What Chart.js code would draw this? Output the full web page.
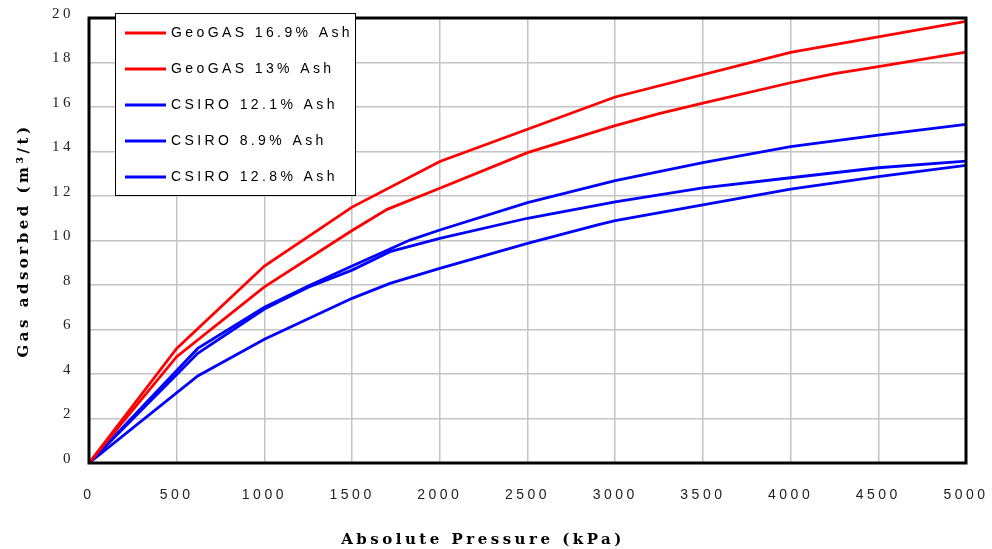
<!DOCTYPE html>
<html><head><meta charset="utf-8">
<script src="https://cdn.jsdelivr.net/npm/chart.js@4.4.1/dist/chart.umd.min.js"></script>
<style>html,body{margin:0;padding:0;background:#fff}canvas{display:block}</style>
</head><body>
<canvas id="c" width="992" height="549"></canvas>
<script>
// ---- data ----
const seriesLabels = ['GeoGAS 16.9% Ash', 'GeoGAS 13% Ash', 'CSIRO 12.1% Ash', 'CSIRO 8.9% Ash', 'CSIRO 12.8% Ash'];
const seriesColors = ['#ff0000', '#ff0000', '#0000ff', '#0000ff', '#0000ff'];

const geo169Pressure = [0, 500, 1000, 1500, 2000, 3000, 4000, 5000];
const geo169Gas      = [0, 5.15, 8.85, 11.5, 13.55, 16.45, 18.45, 19.85];

const geo13Pressure = [0, 500, 1000, 1500, 1700, 2000, 2500, 3000, 3250, 3500, 4000, 4250, 4500, 5000];
const geo13Gas      = [0, 4.78, 7.92, 10.45, 11.4, 12.35, 13.95, 15.16, 15.7, 16.17, 17.09, 17.5, 17.81, 18.47];

const csiro121Pressure = [0, 620, 1000, 1250, 1500, 1830, 2000, 2500, 3000, 3500, 4000, 4500, 5000];
const csiro121Gas      = [0, 5.15, 7.0, 7.95, 8.85, 10.02, 10.47, 11.7, 12.69, 13.5, 14.22, 14.74, 15.22];

const csiro89Pressure = [0, 620, 1000, 1250, 1500, 1716, 2000, 2500, 3000, 3500, 4000, 4500, 5000];
const csiro89Gas      = [0, 4.93, 6.92, 7.9, 8.67, 9.5, 10.1, 11.0, 11.74, 12.37, 12.82, 13.27, 13.57];

const csiro128Pressure = [0, 620, 1000, 1500, 1716, 2000, 2500, 2900, 3000, 3500, 4000, 4500, 5000];
const csiro128Gas      = [0, 3.91, 5.56, 7.4, 8.07, 8.75, 9.87, 10.7, 10.89, 11.6, 12.31, 12.87, 13.38];

const xTicks = [0, 500, 1000, 1500, 2000, 2500, 3000, 3500, 4000, 4500, 5000];
const yTicks = [0, 2, 4, 6, 8, 10, 12, 14, 16, 18, 20];

const xTitle = 'Absolute Pressure (kPa)';
const yTitle = 'Gas adsorbed (m\u00B3/t)';

// ---- build datasets ----
const pressures = [geo169Pressure, geo13Pressure, csiro121Pressure, csiro89Pressure, csiro128Pressure];
const gases = [geo169Gas, geo13Gas, csiro121Gas, csiro89Gas, csiro128Gas];
const datasets = seriesLabels.map((lab, i) => ({
  label: lab,
  data: pressures[i].map((p, j) => ({x: p, y: gases[i][j]})),
  borderColor: seriesColors[i],
  backgroundColor: seriesColors[i],
  borderWidth: 2.8,
  pointRadius: 0,
  tension: 0,
  showLine: true,
  fill: false
}));

const SPACING = '3.5px';
const spacingPlugin = {
  id: 'spacing',
  beforeUpdate(chart) { chart.ctx.letterSpacing = SPACING; },
  beforeLayout(chart) { chart.ctx.letterSpacing = SPACING; },
  beforeDraw(chart) { chart.ctx.letterSpacing = SPACING; }
};

const frameLegendPlugin = {
  id: 'frameLegend',
  afterDatasetsDraw(chart) {
    const {ctx, chartArea: a} = chart;
    ctx.save();
    ctx.strokeStyle = '#000';
    ctx.lineWidth = 3;
    ctx.strokeRect(a.left, a.top, a.right - a.left, a.bottom - a.top);
    ctx.restore();
  },
  afterDraw(chart) {
    const ctx = chart.ctx;
    ctx.save();
    ctx.fillStyle = '#fff';
    ctx.fillRect(115, 13, 240, 182);
    ctx.strokeStyle = '#000';
    ctx.lineWidth = 1;
    ctx.strokeRect(115.5, 13.5, 240, 182);
    ctx.letterSpacing = '3.4px';
    ctx.font = '14px "Liberation Sans", Arial, sans-serif';
    ctx.textBaseline = 'middle';
    ctx.textAlign = 'left';
    chart.data.datasets.forEach((ds, i) => {
      const y = 33 + i * 36;
      ctx.strokeStyle = ds.borderColor;
      ctx.lineWidth = 3;
      ctx.beginPath();
      ctx.moveTo(125, y);
      ctx.lineTo(166, y);
      ctx.stroke();
      ctx.fillStyle = '#000';
      ctx.fillText(ds.label, 171, y);
    });
    ctx.restore();
  }
};

new Chart(document.getElementById('c'), {
  type: 'scatter',
  data: { datasets },
  options: {
    responsive: false,
    animation: false,
    layout: { padding: { left: 0, top: 18, right: 26, bottom: 0 } },
    plugins: {
      legend: { display: false },
      tooltip: { enabled: false },
      title: {
        display: true,
        position: 'bottom',
        text: xTitle,
        color: '#000',
        font: { family: '"DejaVu Serif", serif', size: 15, weight: 'bold', lineHeight: 1.2 },
        padding: { top: 0, bottom: 0 }
      }
    },
    scales: {
      x: {
        type: 'linear',
        min: 0, max: 5000,
        afterBuildTicks(scale) { scale.ticks = xTicks.map(v => ({value: v})); },
        afterFit(scale) { scale.height = 68; scale.paddingLeft = 0; scale.paddingRight = 0; },
        grid: { color: '#c4c4c4', lineWidth: 1.5, drawTicks: false },
        border: { display: false },
        ticks: {
          padding: 24,
          color: '#222',
          maxRotation: 0,
          autoSkip: false,
          font: { family: '"Liberation Sans Narrow", "Liberation Sans", Arial, sans-serif', size: 14 },
          callback: v => String(v)
        },
        title: { display: false }
      },
      y: {
        type: 'linear',
        min: 0, max: 20,
        afterBuildTicks(scale) { scale.ticks = yTicks.map(v => ({value: v})); },
        afterFit(scale) { scale.width = 89; scale.paddingTop = 0; scale.paddingBottom = 0; },
        grid: { color: '#c4c4c4', lineWidth: 1.5, drawTicks: false },
        border: { display: false },
        ticks: {
          padding: 15,
          labelOffset: -4,
          color: '#222',
          autoSkip: false,
          font: { family: '"Liberation Serif", "Times New Roman", serif', size: 15 },
          callback: v => String(v)
        },
        title: {
          display: true,
          text: yTitle,
          color: '#000',
          font: { family: '"DejaVu Serif", serif', size: 15, weight: 'bold', lineHeight: 1.2 },
          padding: { top: 15, bottom: 0 }
        }
      }
    }
  },
  plugins: [spacingPlugin, frameLegendPlugin]
});
</script>
</body></html>
